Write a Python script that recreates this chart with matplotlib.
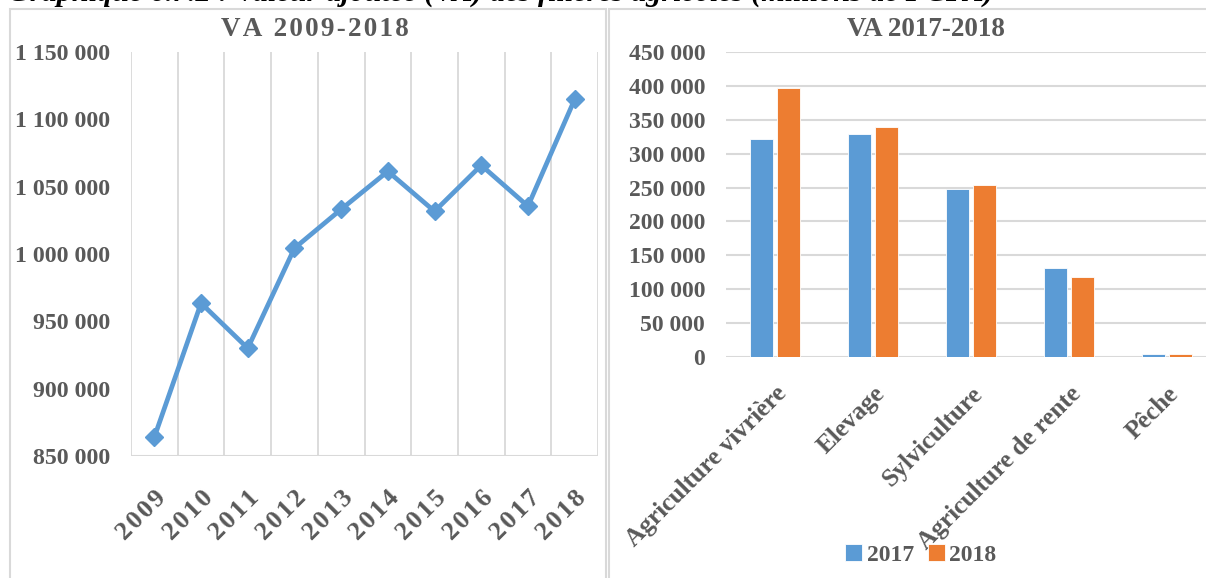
import matplotlib
matplotlib.use("Agg")
import matplotlib.pyplot as plt
import numpy as np
from matplotlib.patches import Rectangle
from matplotlib.ticker import FuncFormatter

# --- data -------------------------------------------------------------
years = ["2009", "2010", "2011", "2012", "2013", "2014", "2015", "2016", "2017", "2018"]
va_total = [864000, 963500, 930000, 1004300, 1033200, 1061400, 1031700, 1065900, 1035500, 1114800]

filieres = ["Agriculture vivrière", "Elevage", "Sylviculture", "Agriculture de rente", "Pêche"]
va_2017 = [321600, 329000, 247900, 131300, 4200]
va_2018 = [396900, 339300, 253800, 118000, 4000]

BLUE = "#5B9BD5"
ORANGE = "#ED7D31"
GREY_TXT = "#595959"
GRID = "#D9D9D9"
SERIF = ["Liberation Serif", "DejaVu Serif"]

plt.rcParams["font.family"] = SERIF
plt.rcParams["font.weight"] = "bold"

W, H = 1206, 578
fig = plt.figure(figsize=(W / 100, H / 100), dpi=100)


def px_axes(x0, y_top, x1, y_bottom):
    return fig.add_axes([x0 / W, 1 - y_bottom / H, (x1 - x0) / W, (y_bottom - y_top) / H])


def space_fmt(v, _pos):
    return f"{int(round(v)):,}".replace(",", " ")


def spaced(s, sep="\u200a"):
    # Excel's character spacing on some labels
    return sep.join(s)


# chart frames (Excel chart areas)
fig.add_artist(Rectangle((10 / W, -0.05), 596 / W, 1.05 - 9 / H, transform=fig.transFigure,
                         fill=False, edgecolor=GRID, linewidth=1.5))
fig.add_artist(Rectangle((609 / W, -0.05), 620 / W, 1.05 - 9 / H, transform=fig.transFigure,
                         fill=False, edgecolor=GRID, linewidth=1.5))

# document caption, cut off at the top of the picture
fig.text(8 / W, 1 - 0.5 / H, "Graphique 6.7.2 : Valeur ajoutée (VA) des filières agricoles (millions de FCFA)",
         fontsize=21.8, fontweight="bold", fontstyle="italic", color="black", ha="left", va="baseline")

# --- left: line chart -------------------------------------------------
ax1 = px_axes(131, 52, 598, 456)
x = np.arange(len(years))
ax1.plot(x, va_total, color=BLUE, linewidth=3.4, marker="D", markersize=9.5, zorder=3)
ax1.set_xlim(-0.5, len(years) - 0.5)
ax1.set_ylim(850000, 1150000)
ax1.set_yticks(np.arange(850000, 1150001, 50000))
ax1.yaxis.set_major_formatter(FuncFormatter(space_fmt))
for b in np.arange(-0.5, len(years), 1.0):
    ax1.axvline(b, color=GRID, linewidth=1.3, zorder=1)
ax1.set_xticks(x)
ax1.set_xticklabels([spaced(y) for y in years], rotation=45, ha="right", va="top",
                    rotation_mode="anchor")
for s in ax1.spines.values():
    s.set_visible(False)
ax1.axhline(850000, color=GRID, linewidth=1.5, zorder=1)
ax1.tick_params(axis="both", length=0, colors=GREY_TXT)
ax1.tick_params(axis="y", labelsize=17.2, pad=15)
ax1.tick_params(axis="x", labelsize=19, pad=22)
for lab in ax1.get_xticklabels() + ax1.get_yticklabels():
    lab.set_fontweight("bold")
fig.text(315 / W, 1 - 30 / H, spaced("VA 2009-2018"), fontsize=19.5, fontweight="bold",
         color=GREY_TXT, ha="center", va="center")

# --- right: grouped bars ----------------------------------------------
ax2 = px_axes(726, 52, 1216, 357)
xc = np.arange(len(filieres))
bw = 0.225
ax2.bar(xc - 0.138, va_2017, width=bw, color=BLUE, edgecolor="white", linewidth=0.6, label="2017", zorder=3)
ax2.bar(xc + 0.138, va_2018, width=bw, color=ORANGE, edgecolor="white", linewidth=0.6, label="2018", zorder=3)
ax2.set_xlim(-0.5, len(filieres) - 0.5)
ax2.set_ylim(0, 450000)
ax2.set_yticks(np.arange(0, 450001, 50000))
ax2.yaxis.set_major_formatter(FuncFormatter(space_fmt))
ax2.yaxis.grid(True, color=GRID, linewidth=1.5, zorder=0)
ax2.set_axisbelow(True)
for s in ax2.spines.values():
    s.set_visible(False)
ax2.set_xticks(xc)
ax2.set_xticklabels(filieres, rotation=45, ha="right", va="top", rotation_mode="anchor")
ax2.tick_params(axis="both", length=0, colors=GREY_TXT)
ax2.tick_params(axis="y", labelsize=17, pad=15)
ax2.tick_params(axis="x", labelsize=18.3, pad=18)
for lab in ax2.get_xticklabels() + ax2.get_yticklabels():
    lab.set_fontweight("bold")
fig.text(926 / W, 1 - 30 / H, "VA 2017-2018", fontsize=19.5, fontweight="bold",
         color=GREY_TXT, ha="center", va="center")

leg = fig.legend(loc="center", bbox_to_anchor=(921 / W, 1 - 555 / H), ncol=2, frameon=False,
                 prop={"family": SERIF, "weight": "bold", "size": 17}, handlelength=0.7,
                 handleheight=0.7, handletextpad=0.2, columnspacing=0.6)
for t in leg.get_texts():
    t.set_color(GREY_TXT)

fig.savefig("out.png", dpi=100)
